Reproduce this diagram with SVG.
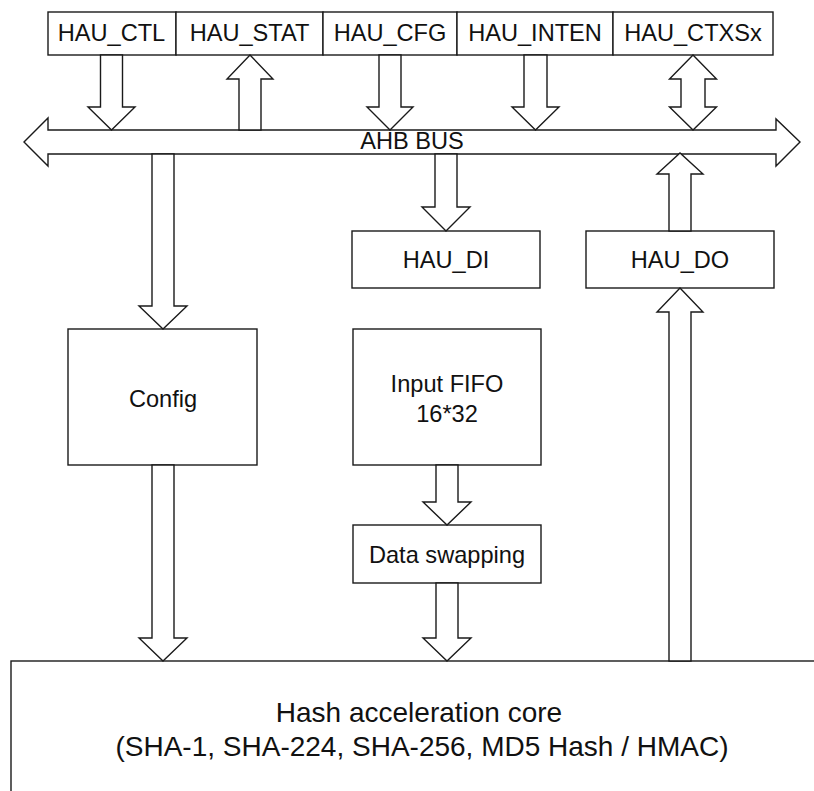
<svg xmlns="http://www.w3.org/2000/svg" width="814" height="791" viewBox="0 0 814 791">
<style>
.b{fill:#fff;stroke:#1a1a1a;stroke-width:1.4}
.a{fill:#fff;stroke:#1a1a1a;stroke-width:1.4;stroke-linejoin:miter}
.t{font-family:"Liberation Sans",Arial,sans-serif;font-size:23.6px;fill:#111;text-anchor:middle}
.c{font-size:28px}
</style>
<rect width="814" height="791" fill="#fff"/>
<g id="core"><rect class="b" x="11" y="661" width="900" height="200"/>
<text class="t c" x="419" y="722">Hash acceleration core</text>
<text class="t c" x="422" y="756">(SHA-1, SHA-224, SHA-256, MD5 Hash / HMAC)</text></g>
<g id="regs">
<g id="HAU_CTL"><rect class="b" x="48" y="12" width="128" height="43"/><text class="t" x="111.5" y="41">HAU_CTL</text></g>
<g id="HAU_STAT"><rect class="b" x="176" y="12" width="147" height="43"/><text class="t" x="249.5" y="41">HAU_STAT</text></g>
<g id="HAU_CFG"><rect class="b" x="323" y="12" width="134" height="43"/><text class="t" x="390" y="41">HAU_CFG</text></g>
<g id="HAU_INTEN"><rect class="b" x="457" y="12" width="156" height="43"/><text class="t" x="535" y="41">HAU_INTEN</text></g>
<g id="HAU_CTXSx"><rect class="b" x="613" y="12" width="160" height="43"/><text class="t" x="693" y="41">HAU_CTXSx</text></g>
</g>
<g id="config"><rect class="b" x="68" y="329" width="189" height="136"/><text class="t" x="163" y="407">Config</text></g>
<g id="HAU_DI"><rect class="b" x="352" y="231" width="188" height="57"/><text class="t" x="446" y="268">HAU_DI</text></g>
<g id="HAU_DO"><rect class="b" x="586" y="231" width="188" height="57"/><text class="t" x="680" y="268">HAU_DO</text></g>
<g id="fifo"><rect class="b" x="353" y="329" width="188" height="136"/><text class="t" x="447" y="392">Input FIFO</text><text class="t" x="447" y="422">16*32</text></g>
<g id="swap"><rect class="b" x="353" y="525" width="188" height="58"/><text class="t" x="447" y="563">Data swapping</text></g>
<g id="bus"><path class="a" d="M24,142 L48,118 L48,130 L776,130 L776,119 L800,142 L776,166 L776,154 L48,154 L48,166 Z"/>
<text class="t" x="412" y="149">AHB BUS</text></g>
<g id="connectors">
<path class="a" d="M100.5,55 V107 H88 L111.5,130 L135,107 H122.5 V55 Z"/>
<path class="a" d="M239,130 V79 H227 L250,55 L273,79 H261 V130 Z"/>
<path class="a" d="M379,55 V107 H367 L390,130 L413,107 H401 V55 Z"/>
<path class="a" d="M524,55 V107 H512 L535.5,130 L559,107 H547 V55 Z"/>
<path class="a" d="M693,55 L716.5,79 H705 V107 H716.5 L693,130 L669.5,107 H681 V79 H669.5 Z"/>
<path class="a" d="M152,154 V306 H139 L163,329 L187,306 H174 V154 Z"/>
<path class="a" d="M435,154 V207 H422 L446,231 L470,207 H457 V154 Z"/>
<path class="a" d="M669,231 V174 H657 L680,153 L703,174 H691 V231 Z"/>
<path class="a" d="M669,661 V312 H657 L680,288 L703,312 H691 V661 Z"/>
<path class="a" d="M152,465 V638 H139 L163,661 L187,638 H174 V465 Z"/>
<path class="a" d="M436,465 V502 H423 L447,525 L471,502 H458 V465 Z"/>
<path class="a" d="M436,583 V638 H423 L447,661 L471,638 H458 V583 Z"/>
</g>
</svg>
